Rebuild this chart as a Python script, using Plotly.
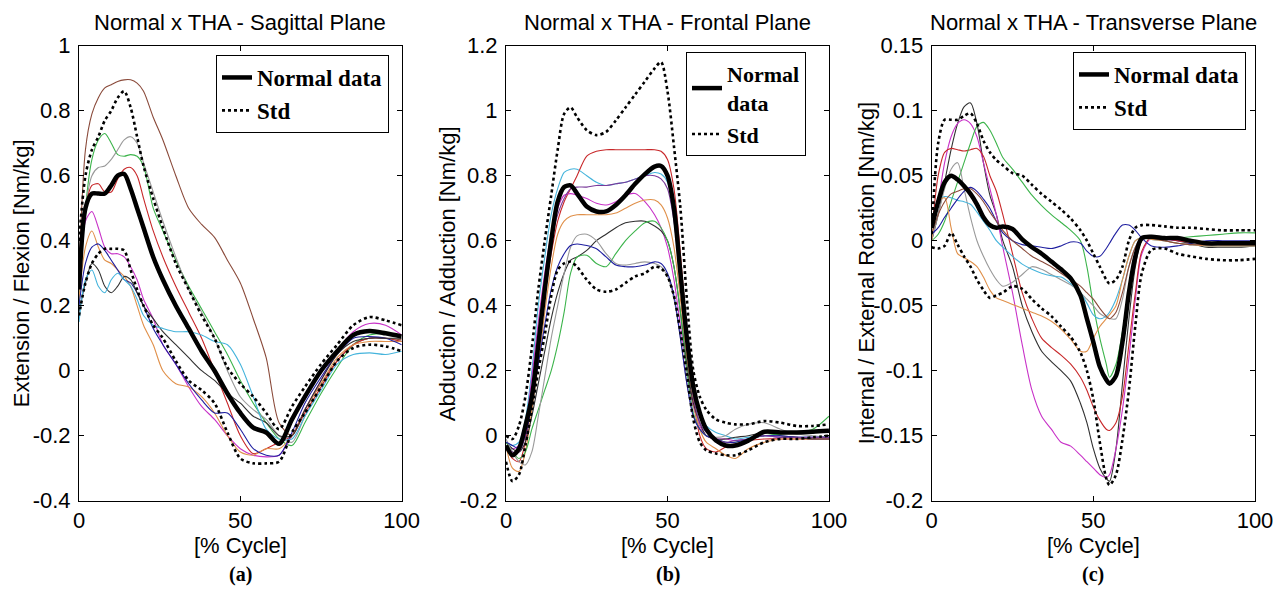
import plotly.graph_objects as go

# ---------------- DATA ----------------
X_A = [0, 2, 4, 6, 8, 10, 12, 14, 16, 18, 20, 23, 26, 30, 34, 38, 42, 46, 50, 54, 58, 62, 66, 70, 75, 80, 85, 90, 95, 100]
A_mean = [0.25, 0.50, 0.545, 0.545, 0.545, 0.57, 0.60, 0.605, 0.56, 0.50, 0.44, 0.35, 0.28, 0.20, 0.13, 0.06, 0.0, -0.07, -0.13, -0.175, -0.19, -0.225, -0.15, -0.08, 0.0, 0.06, 0.11, 0.122, 0.115, 0.105]
A_upper = [0.40, 0.60, 0.68, 0.72, 0.77, 0.80, 0.84, 0.86, 0.81, 0.72, 0.63, 0.53, 0.44, 0.33, 0.25, 0.17, 0.10, 0.01, -0.04, -0.08, -0.13, -0.18, -0.11, -0.05, 0.02, 0.08, 0.14, 0.165, 0.155, 0.14]
A_lower = [0.17, 0.27, 0.33, 0.36, 0.375, 0.375, 0.375, 0.37, 0.31, 0.25, 0.20, 0.14, 0.10, 0.03, -0.03, -0.06, -0.10, -0.19, -0.27, -0.285, -0.285, -0.28, -0.19, -0.13, -0.05, 0.03, 0.07, 0.08, 0.075, 0.06]
A_subjects = {
    "brown": [0.3, 0.68, 0.79, 0.84, 0.87, 0.88, 0.89, 0.895, 0.895, 0.885, 0.86, 0.78, 0.71, 0.6, 0.5, 0.45, 0.41, 0.34, 0.27, 0.16, 0.04, -0.16, -0.2, -0.12, -0.04, 0.03, 0.08, 0.1, 0.1, 0.095],
    "green": [0.2, 0.5, 0.65, 0.71, 0.73, 0.70, 0.665, 0.66, 0.665, 0.66, 0.63, 0.5, 0.43, 0.34, 0.26, 0.19, 0.12, 0.05, -0.03, -0.1, -0.16, -0.21, -0.23, -0.16, -0.07, 0.01, 0.08, 0.11, 0.115, 0.11],
    "grey": [0.25, 0.5, 0.6, 0.625, 0.63, 0.65, 0.68, 0.71, 0.72, 0.70, 0.64, 0.55, 0.46, 0.35, 0.25, 0.18, 0.10, 0.0, -0.08, -0.12, -0.15, -0.2, -0.22, -0.14, -0.05, 0.03, 0.08, 0.1, 0.1, 0.09],
    "red": [0.28, 0.5, 0.57, 0.575, 0.55, 0.55, 0.59, 0.62, 0.625, 0.6, 0.53, 0.43, 0.35, 0.26, 0.18, 0.10, 0.0, -0.1, -0.2, -0.255, -0.24, -0.22, -0.2, -0.13, -0.05, 0.03, 0.08, 0.1, 0.1, 0.09],
    "magenta": [0.25, 0.46, 0.49, 0.44, 0.38, 0.36, 0.36, 0.35, 0.32, 0.28, 0.22, 0.16, 0.08, 0.02, -0.05, -0.11, -0.15, -0.2, -0.24, -0.26, -0.265, -0.26, -0.2, -0.12, -0.03, 0.06, 0.12, 0.145, 0.14, 0.11],
    "orange": [0.22, 0.38, 0.43, 0.38, 0.34, 0.33, 0.31, 0.29, 0.26, 0.2, 0.14, 0.08, 0.0, -0.04, -0.05, -0.08, -0.13, -0.2, -0.25, -0.26, -0.24, -0.24, -0.2, -0.12, -0.04, 0.04, 0.08, 0.09, 0.09, 0.09],
    "navy": [0.2, 0.33, 0.38, 0.39, 0.37, 0.34, 0.31, 0.28, 0.27, 0.24, 0.2, 0.13, 0.08, 0.02, -0.04, -0.09, -0.13, -0.13, -0.18, -0.24, -0.26, -0.26, -0.19, -0.1, -0.02, 0.05, 0.1, 0.105, 0.1, 0.08],
    "black": [0.18, 0.27, 0.33, 0.31, 0.26, 0.24, 0.26, 0.29, 0.28, 0.24, 0.2, 0.16, 0.12, 0.08, 0.04, 0.0, -0.03, -0.07, -0.1, -0.14, -0.16, -0.2, -0.2, -0.12, -0.03, 0.05, 0.09, 0.1, 0.1, 0.1],
    "cyan": [0.15, 0.28, 0.31, 0.26, 0.24, 0.28, 0.3, 0.28, 0.26, 0.22, 0.17, 0.14, 0.13, 0.12, 0.12, 0.11, 0.09, 0.08, 0.02, -0.08, -0.18, -0.21, -0.21, -0.14, -0.06, 0.02, 0.05, 0.055, 0.05, 0.06],
}

X_B = [0, 2, 4, 6, 8, 10, 12, 14, 16, 18, 20, 22, 25, 28, 31, 34, 37, 40, 43, 46, 48, 50, 52, 54, 56, 58, 60, 62, 65, 68, 71, 75, 80, 85, 90, 95, 100]
B_mean = [-0.03, -0.06, -0.04, 0.03, 0.12, 0.28, 0.45, 0.6, 0.72, 0.765, 0.77, 0.745, 0.705, 0.69, 0.69, 0.71, 0.74, 0.775, 0.805, 0.828, 0.83, 0.8, 0.7, 0.5, 0.3, 0.15, 0.07, 0.02, -0.015, -0.03, -0.03, -0.015, 0.012, 0.01, 0.01, 0.012, 0.015]
B_upper = [0.0, -0.01, 0.03, 0.12, 0.27, 0.45, 0.6, 0.74, 0.88, 0.99, 1.01, 0.98, 0.94, 0.925, 0.935, 0.97, 1.01, 1.05, 1.09, 1.13, 1.15, 1.06, 0.89, 0.7, 0.42, 0.2, 0.12, 0.08, 0.05, 0.04, 0.035, 0.035, 0.045, 0.04, 0.03, 0.03, 0.035]
B_lower = [-0.08, -0.14, -0.12, -0.03, 0.08, 0.2, 0.31, 0.43, 0.51, 0.53, 0.535, 0.52, 0.48, 0.45, 0.443, 0.45, 0.47, 0.49, 0.5, 0.52, 0.515, 0.49, 0.43, 0.32, 0.19, 0.05, -0.02, -0.045, -0.055, -0.06, -0.06, -0.045, -0.02, -0.01, -0.01, -0.005, 0.0]
B_subjects = {
    "cyan": [-0.02, -0.03, -0.02, 0.05, 0.2, 0.4, 0.55, 0.68, 0.76, 0.81, 0.82, 0.82, 0.8, 0.78, 0.77, 0.775, 0.78, 0.79, 0.8, 0.81, 0.805, 0.78, 0.68, 0.5, 0.3, 0.14, 0.06, 0.03, 0.01, 0.0, -0.01, -0.005, 0.0, -0.005, -0.005, -0.005, 0.0],
    "red": [-0.03, -0.07, -0.08, -0.02, 0.12, 0.28, 0.43, 0.56, 0.66, 0.72, 0.76, 0.8, 0.86, 0.875, 0.88, 0.88, 0.88, 0.88, 0.88, 0.88, 0.875, 0.85, 0.76, 0.56, 0.32, 0.12, 0.0, -0.04, -0.05, -0.035, -0.025, -0.015, -0.01, -0.01, -0.01, -0.01, -0.01],
    "magenta": [-0.02, -0.04, -0.03, 0.03, 0.18, 0.35, 0.5, 0.62, 0.7, 0.74, 0.745, 0.74, 0.73, 0.715, 0.71, 0.72, 0.74, 0.745, 0.72, 0.68, 0.64, 0.58, 0.48, 0.34, 0.2, 0.09, 0.03, 0.0, -0.01, -0.01, -0.015, -0.01, 0.0, -0.005, -0.005, -0.01, -0.01],
    "orange": [-0.03, -0.1, -0.11, -0.05, 0.08, 0.22, 0.38, 0.52, 0.62, 0.66, 0.675, 0.68, 0.68, 0.68, 0.68, 0.685, 0.7, 0.715, 0.725, 0.725, 0.71, 0.67, 0.58, 0.42, 0.24, 0.1, 0.02, -0.02, -0.04, -0.06, -0.07, -0.04, -0.02, -0.01, -0.01, -0.01, -0.01],
    "black": [-0.02, -0.04, -0.05, -0.02, 0.06, 0.16, 0.26, 0.36, 0.44, 0.5, 0.54, 0.55, 0.57, 0.6, 0.62, 0.64, 0.655, 0.66, 0.66, 0.645, 0.63, 0.6, 0.52, 0.38, 0.22, 0.1, 0.04, 0.0, -0.01, -0.01, -0.005, 0.0, 0.01, 0.0, -0.005, -0.01, -0.01],
    "green": [-0.02, -0.05, -0.07, -0.05, 0.02, 0.08, 0.14, 0.2, 0.28, 0.38, 0.5, 0.55, 0.555, 0.53, 0.52, 0.56, 0.6, 0.63, 0.655, 0.66, 0.64, 0.6, 0.52, 0.38, 0.2, 0.07, 0.02, 0.0, -0.01, -0.02, -0.02, -0.01, 0.0, 0.005, 0.01, 0.02, 0.06],
    "grey": [-0.01, -0.05, -0.08, -0.09, -0.05, 0.06, 0.18, 0.3, 0.4, 0.5, 0.58, 0.615, 0.62, 0.6, 0.56, 0.53, 0.525, 0.53, 0.535, 0.53, 0.52, 0.49, 0.42, 0.3, 0.16, 0.06, 0.02, 0.0, -0.005, 0.0, 0.02, 0.035, 0.04, 0.02, 0.005, 0.0, -0.005],
    "navy": [-0.02, -0.03, -0.04, 0.0, 0.1, 0.22, 0.34, 0.45, 0.52, 0.56, 0.585, 0.59, 0.585, 0.575, 0.55, 0.525, 0.52, 0.52, 0.525, 0.535, 0.53, 0.5, 0.43, 0.3, 0.16, 0.06, 0.02, 0.0, -0.01, -0.02, -0.02, -0.01, 0.0, 0.0, -0.005, -0.005, -0.005],
    "purple": [-0.03, -0.05, -0.05, 0.0, 0.15, 0.32, 0.48, 0.6, 0.68, 0.73, 0.76, 0.765, 0.765, 0.77, 0.77, 0.775, 0.78, 0.79, 0.8, 0.8, 0.79, 0.76, 0.66, 0.48, 0.28, 0.12, 0.04, 0.01, -0.01, -0.02, -0.015, -0.01, 0.0, -0.005, -0.005, -0.005, -0.005],
}

X_C = [0, 2, 4, 6, 8, 10, 12, 14, 16, 18, 20, 22, 25, 28, 31, 34, 37, 40, 43, 46, 48, 50, 52, 54, 55, 57, 59, 61, 63, 65, 68, 72, 76, 80, 85, 90, 95, 100]
C_mean = [0.01, 0.03, 0.045, 0.05, 0.047, 0.042, 0.036, 0.028, 0.018, 0.012, 0.01, 0.011, 0.009, 0.001, -0.005, -0.01, -0.016, -0.022, -0.029, -0.042, -0.06, -0.078, -0.097, -0.107, -0.11, -0.104, -0.078, -0.04, -0.012, 0.002, 0.003, 0.002, 0.002, 0.0, -0.002, -0.002, -0.002, -0.002]
C_upper = [0.005, 0.075, 0.093, 0.093, 0.093, 0.096, 0.098, 0.09, 0.077, 0.068, 0.062, 0.058, 0.052, 0.05, 0.043, 0.036, 0.03, 0.024, 0.017, 0.008, 0.0, -0.01, -0.02, -0.03, -0.033, -0.03, -0.02, 0.0, 0.01, 0.012, 0.012, 0.011, 0.01, 0.01, 0.009, 0.008, 0.008, 0.008]
C_lower = [-0.005, -0.006, -0.004, 0.006, -0.003, -0.012, -0.02, -0.03, -0.038, -0.044, -0.042, -0.04, -0.035, -0.037, -0.045, -0.052, -0.058, -0.066, -0.074, -0.086, -0.1, -0.122, -0.155, -0.183, -0.188, -0.18, -0.153, -0.115, -0.065, -0.025, -0.007, -0.006, -0.01, -0.012, -0.014, -0.015, -0.015, -0.014]
C_subjects = {
    "black": [0.0, 0.02, 0.045, 0.07, 0.09, 0.103, 0.106, 0.09, 0.06, 0.035, 0.02, 0.0, -0.02, -0.05, -0.07, -0.085, -0.093, -0.1, -0.108, -0.125, -0.14, -0.16, -0.175, -0.183, -0.185, -0.16, -0.11, -0.06, -0.02, 0.0, 0.003, 0.002, 0.0, -0.002, -0.005, -0.005, -0.005, -0.004],
    "magenta": [0.005, 0.03, 0.06, 0.08, 0.09, 0.093, 0.09, 0.08, 0.06, 0.04, 0.02, -0.005, -0.04, -0.08, -0.115, -0.135, -0.145, -0.155, -0.158, -0.165, -0.17, -0.175, -0.18, -0.182, -0.18, -0.16, -0.13, -0.09, -0.045, -0.01, 0.002, 0.001, 0.0, -0.001, -0.002, -0.002, -0.002, -0.002],
    "red": [0.005, 0.05, 0.068, 0.071, 0.07, 0.069, 0.07, 0.071, 0.065, 0.05, 0.038, 0.02, -0.01, -0.04, -0.06, -0.075, -0.082, -0.088, -0.095, -0.105, -0.115, -0.128, -0.138, -0.145, -0.146, -0.14, -0.12, -0.08, -0.04, -0.008, 0.003, 0.002, 0.0, -0.001, -0.002, -0.003, -0.003, -0.003],
    "green": [0.0, 0.005, 0.015, 0.03, 0.045, 0.06, 0.075, 0.088, 0.091, 0.085, 0.075, 0.064, 0.055, 0.045, 0.035, 0.027, 0.02, 0.014, 0.008, 0.0, -0.02, -0.05, -0.075, -0.095, -0.105, -0.095, -0.07, -0.04, -0.01, 0.003, 0.003, 0.002, 0.002, 0.003, 0.004, 0.005, 0.006, 0.006],
    "grey": [0.0, 0.02, 0.04, 0.055, 0.06, 0.04, 0.018, 0.0, -0.012, -0.022, -0.03, -0.035, -0.032, -0.026, -0.02, -0.022, -0.026, -0.03, -0.034, -0.04, -0.045, -0.05, -0.056, -0.059, -0.06, -0.06, -0.045, -0.02, -0.005, 0.002, 0.002, 0.0, -0.002, -0.003, -0.004, -0.004, -0.004, -0.004],
    "cyan": [0.005, 0.03, 0.034, 0.033, 0.031, 0.03, 0.028, 0.022, 0.015, 0.008, 0.0, -0.005, -0.012, -0.018, -0.022, -0.025, -0.027, -0.028, -0.033, -0.04, -0.048, -0.057, -0.06, -0.058, -0.055, -0.045, -0.03, -0.012, 0.0, 0.002, 0.001, 0.0, -0.002, -0.003, -0.004, -0.004, -0.004, -0.004],
    "navy": [0.005, 0.01, 0.018, 0.025, 0.032, 0.038, 0.041, 0.038, 0.032, 0.025, 0.015, 0.006, 0.0, -0.003, -0.004, -0.005, -0.006, -0.004, -0.001, -0.002, -0.008, -0.012, -0.012, -0.006, -0.002, 0.006, 0.012, 0.012, 0.008, 0.002, -0.004, -0.005, -0.004, -0.002, 0.0, 0.0, 0.0, 0.0],
    "orange": [0.0, 0.03, 0.033, 0.01, -0.01, -0.013, -0.016, -0.02, -0.028, -0.038, -0.044, -0.046, -0.049, -0.052, -0.055, -0.058, -0.062, -0.068, -0.076, -0.085, -0.085, -0.075, -0.066, -0.06, -0.057, -0.05, -0.03, -0.012, 0.0, 0.002, 0.001, 0.0, -0.002, -0.003, -0.004, -0.004, -0.004, -0.004],
    "brown": [0.005, 0.02, 0.03, 0.036, 0.038, 0.04, 0.04, 0.036, 0.03, 0.022, 0.015, 0.008, 0.0, -0.006, -0.012, -0.016, -0.02, -0.025, -0.03, -0.035, -0.04, -0.045, -0.052, -0.058, -0.06, -0.055, -0.04, -0.02, -0.005, 0.002, 0.002, 0.0, -0.002, -0.003, -0.003, -0.003, -0.003, -0.003],
}

TITLES = ["Normal x THA - Sagittal Plane", "Normal x THA - Frontal Plane", "Normal x THA - Transverse Plane"]
Y_TITLES = ["Extension / Flexion [Nm/kg]", "Abduction / Adduction [Nm/kg]", "Internal / External Rotation [Nm/kg]"]
X_TITLE = "[% Cycle]"
CAPTIONS = ["(a)", "(b)", "(c)"]
X_TICKS = [0, 50, 100]
Y_TICKS = [
    [-0.4, -0.2, 0, 0.2, 0.4, 0.6, 0.8, 1.0],
    [-0.2, 0, 0.2, 0.4, 0.6, 0.8, 1.0, 1.2],
    [-0.2, -0.15, -0.1, -0.05, 0, 0.05, 0.1, 0.15],
]
Y_TICKTEXT = [
    ["-0.4", "-0.2", "0", "0.2", "0.4", "0.6", "0.8", "1"],
    ["-0.2", "0", "0.2", "0.4", "0.6", "0.8", "1", "1.2"],
    ["-0.2", "-0.15", "-0.1", "-0.05", "0", "0.05", "0.1", "0.15"],
]
Y_RANGES = [[-0.4, 1.0], [-0.2, 1.2], [-0.2, 0.15]]
LEGEND_NAMES = [["Normal data", "Std"], ["Normal<br>data", "Std"], ["Normal data", "Std"]]

# ---------------- STYLE ----------------
COLORS = {
    "brown": "#8a4a3a", "green": "#3cb44b", "grey": "#9a9a9a", "red": "#c8282a",
    "magenta": "#c832c8", "orange": "#e0904a", "navy": "#1f1fa0", "black": "#303030",
    "cyan": "#45b4dc", "purple": "#7a3a9a",
}
SANS = "Liberation Sans, Arial, sans-serif"
SERIF = "Liberation Serif, Times New Roman, serif"
OFF = 8  # page body margin
W, H = 1286 - 2 * OFF, 595 - 2 * OFF


def px(x):
    return (x - OFF) / W


def py(y):
    return 1 - (y - OFF) / H


X_DOMAINS = [[px(79), px(401.7)], [px(506), px(829)], [px(931.7), px(1255)]]
Y_DOMAIN = [py(500.7), py(45.7)]
LEGEND_POS = [(px(216), py(55)), (px(686), py(52)), (px(1073), py(52))]
LEGEND_SIZES = [23, 22, 23]
YTITLE_X = [px(21), px(447), px(866)]

fig = go.Figure()
panels = [(X_A, A_mean, A_upper, A_lower, A_subjects),
          (X_B, B_mean, B_upper, B_lower, B_subjects),
          (X_C, C_mean, C_upper, C_lower, C_subjects)]

for i, (xs, mean, upper, lower, subjects) in enumerate(panels):
    ax = "" if i == 0 else str(i + 1)
    leg = "legend" if i == 0 else "legend%d" % (i + 1)
    for name, ys in subjects.items():
        fig.add_trace(go.Scatter(x=xs, y=ys, mode="lines", xaxis="x" + ax, yaxis="y" + ax,
                                 line=dict(color=COLORS[name], width=1.1, shape="spline", smoothing=0.8),
                                 showlegend=False, hoverinfo="skip"))
    fig.add_trace(go.Scatter(x=xs, y=upper, mode="lines", xaxis="x" + ax, yaxis="y" + ax,
                             line=dict(color="black", width=2.6, dash="dot", shape="spline", smoothing=0.8),
                             name=LEGEND_NAMES[i][1], legend=leg, legendrank=2, showlegend=True))
    fig.add_trace(go.Scatter(x=xs, y=lower, mode="lines", xaxis="x" + ax, yaxis="y" + ax,
                             line=dict(color="black", width=2.6, dash="dot", shape="spline", smoothing=0.8),
                             showlegend=False))
    fig.add_trace(go.Scatter(x=xs, y=mean, mode="lines", xaxis="x" + ax, yaxis="y" + ax,
                             line=dict(color="black", width=4.5, shape="spline", smoothing=0.8),
                             name=LEGEND_NAMES[i][0], legend=leg, legendrank=1, showlegend=True))

layout = dict(
    width=W, height=H, autosize=False, paper_bgcolor="white", plot_bgcolor="white",
    margin=dict(l=0, r=0, t=0, b=0, pad=0),
    font=dict(family=SANS, size=22, color="black"),
    annotations=[],
)
for i in range(3):
    ax = "" if i == 0 else str(i + 1)
    common = dict(showline=True, linecolor="black", linewidth=1, mirror="ticks", ticks="inside",
                  ticklen=5, tickcolor="black", showgrid=False, zeroline=False, automargin=False,
                  tickfont=dict(family=SANS, size=22, color="black"))
    layout["xaxis" + ax] = dict(common, domain=X_DOMAINS[i], range=[0, 100], tickvals=X_TICKS,
                                anchor="y" + ax, ticklabelstandoff=0)
    layout["yaxis" + ax] = dict(common, domain=Y_DOMAIN, range=Y_RANGES[i], tickvals=Y_TICKS[i],
                                ticktext=Y_TICKTEXT[i], anchor="x" + ax, ticklabelstandoff=3)
    leg = "legend" if i == 0 else "legend%d" % (i + 1)
    layout[leg] = dict(x=LEGEND_POS[i][0], y=LEGEND_POS[i][1], xanchor="left", yanchor="top",
                       bordercolor="black", borderwidth=1, bgcolor="white",
                       font=dict(family=SERIF, size=LEGEND_SIZES[i], color="black", weight="bold"),
                       traceorder="normal")
    cx = (X_DOMAINS[i][0] + X_DOMAINS[i][1]) / 2
    layout["annotations"].append(dict(text=TITLES[i], x=cx, y=py(22), xref="paper", yref="paper",
                                      xanchor="center", yanchor="middle",
                                      showarrow=False, font=dict(family=SANS, size=22)))
    layout["annotations"].append(dict(text=X_TITLE, x=cx, y=py(545), xref="paper", yref="paper",
                                      xanchor="center", yanchor="middle",
                                      showarrow=False, font=dict(family=SANS, size=22)))
    layout["annotations"].append(dict(text=Y_TITLES[i], x=YTITLE_X[i], y=(Y_DOMAIN[0] + Y_DOMAIN[1]) / 2,
                                      xref="paper", yref="paper", textangle=-90,
                                      xanchor="center", yanchor="middle",
                                      showarrow=False, font=dict(family=SANS, size=22)))
    layout["annotations"].append(dict(text="<b>%s</b>" % CAPTIONS[i], x=cx, y=py(574), xref="paper",
                                      yref="paper", xanchor="center", yanchor="middle",
                                      showarrow=False, font=dict(family=SERIF, size=20)))

fig.update_layout(**layout)
fig.write_html("out.html")
